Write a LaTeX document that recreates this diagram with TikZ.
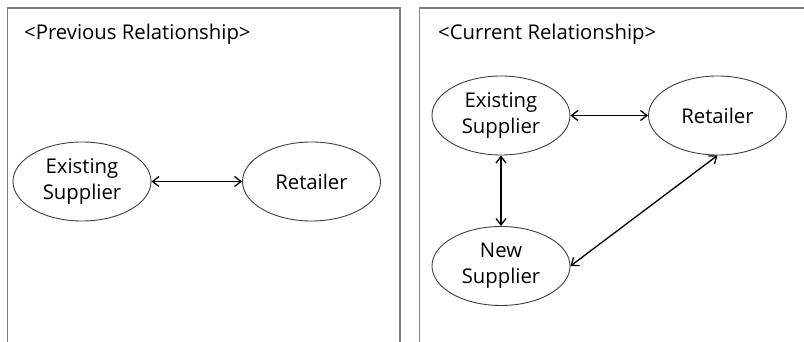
\documentclass[tikz,border=0pt]{standalone}
\usepackage{fontspec}
\setmainfont{Open Sans}
\usetikzlibrary{arrows.meta,shapes.geometric}
\begin{document}
\begin{tikzpicture}[x=1pt,y=-1pt,
  panel/.style={draw=black!50,line width=1.3pt},
  party/.style={ellipse,draw=black!75,line width=0.9pt,minimum width=138pt,minimum height=79pt,
    inner sep=0pt,align=center,font=\fontsize{20.3}{26}\selectfont},
  title/.style={anchor=base west,inner sep=0pt,font=\fontsize{20.3}{26}\selectfont},
  link/.style={line width=1.3pt,{Straight Barb[length=6.5pt,width=10pt]}-{Straight Barb[length=6.5pt,width=10pt]}}]
\useasboundingbox (0,0) rectangle (804,342);
\fill[white] (0,0) rectangle (804,342);

% panel frames, open at the bottom (and right side of the second one)
\draw[panel] (7.5,343) -- (7.5,8) -- (400,8) -- (400,343);
\draw[panel] (419.5,343) -- (419.5,8) -- (805,8);

% previous relationship
\node[title] (t1) at (24,40) {<Previous Relationship>};
\node[party] (es1) at (82,181.5) {Existing\\Supplier};
\node[party] (r1) at (311.5,181.5) {Retailer};
\draw[link] (es1.east) -- (r1.west);

% current relationship
\node[title] (t2) at (438,40) {<Current Relationship>};
\node[party] (es2) at (501,115.5) {Existing\\Supplier};
\node[party] (r2) at (717.5,115.5) {Retailer};
\node[party] (ns2) at (501,266) {New\\Supplier};
\draw[link] (es2.east) -- (r2.west);
\draw[link] (es2.south) -- (ns2.north);
\draw[link] (ns2.east) -- (r2.south);
\end{tikzpicture}
\end{document}
